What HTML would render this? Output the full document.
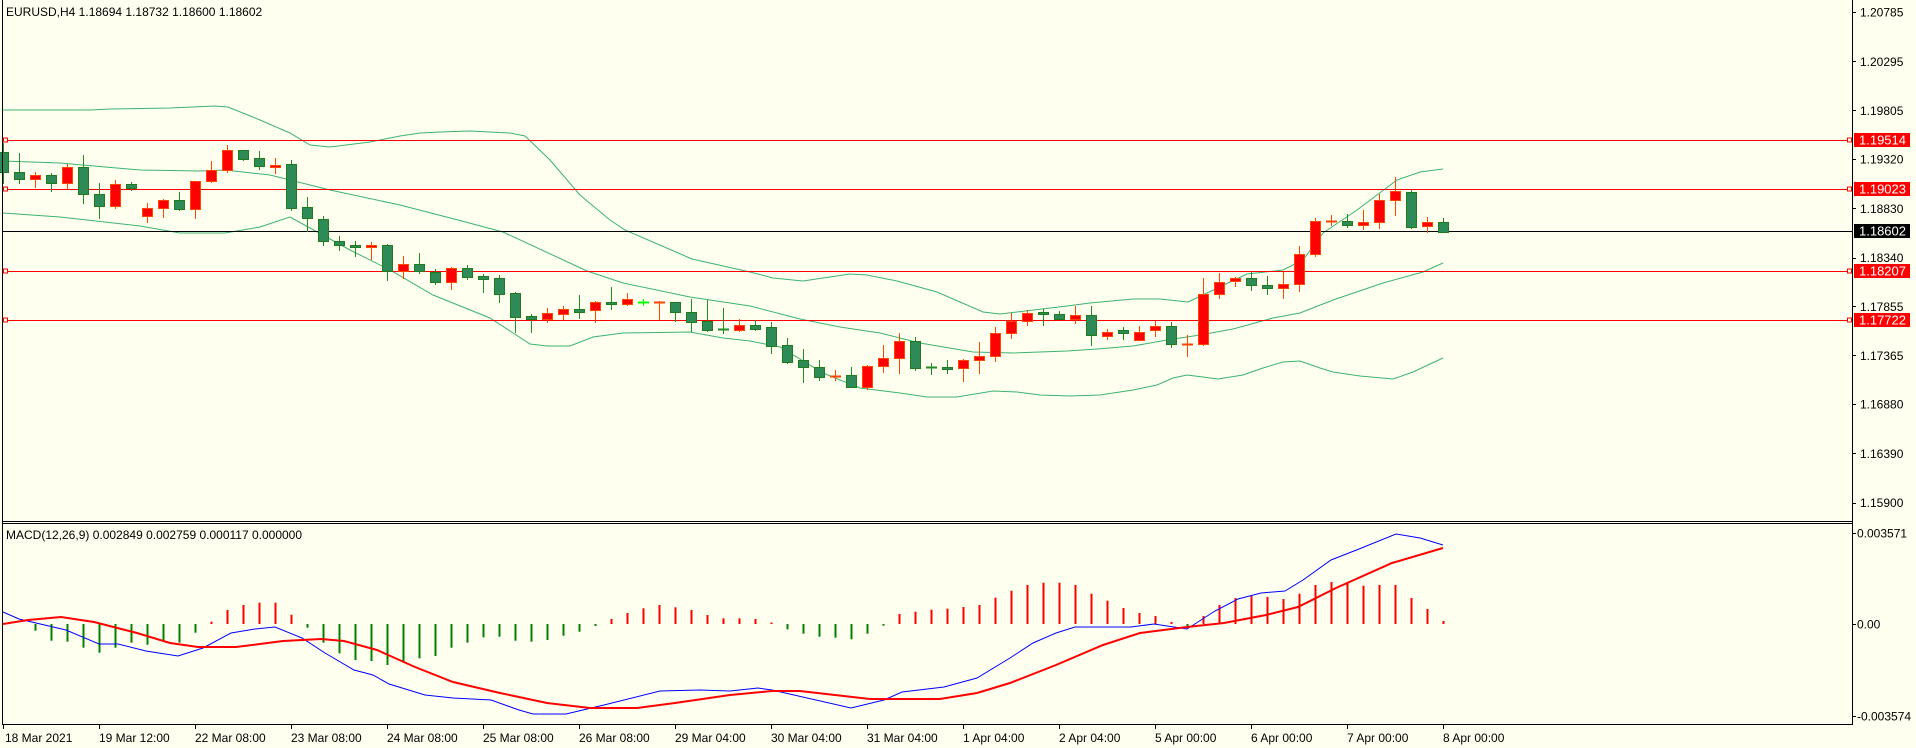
<!DOCTYPE html>
<html><head><meta charset="utf-8"><style>
html,body{margin:0;padding:0;background:#fffff0;}
svg{display:block;font-family:"Liberation Sans",sans-serif;}
</style></head><body>
<svg id="c" width="1916" height="748" xmlns="http://www.w3.org/2000/svg">
<rect x="0" y="0" width="1916" height="748" fill="#fffff0"/>
<g id="bands" fill="none" stroke="#3cb371" stroke-width="1"></g>
<g id="hl"></g>
<g id="candles"></g>
<g id="macd"></g>
<g id="axes" stroke="#000" stroke-width="1" fill="none">
<line x1="2.5" y1="0" x2="2.5" y2="724"/>
<line x1="1852.5" y1="0" x2="1852.5" y2="724"/>
<line x1="2" y1="521.5" x2="1853" y2="521.5"/>
<line x1="2" y1="523.5" x2="1853" y2="523.5"/>
<line x1="2" y1="724.5" x2="1853" y2="724.5"/>
</g>
<g id="txt" font-size="12" fill="#000">
<text x="6" y="16">EURUSD,H4  1.18694 1.18732 1.18600 1.18602</text>
<text x="6" y="539">MACD(12,26,9) 0.002849 0.002759 0.000117 0.000000</text>
</g>
</svg>
<script>
var NS="http://www.w3.org/2000/svg";
function el(p,t,a,txt){var e=document.createElementNS(NS,t);for(var k in a)e.setAttribute(k,a[k]);if(txt!==undefined)e.textContent=txt;document.getElementById(p).appendChild(e);return e;}
function poly(p,pts,st,w){el(p,"polyline",{points:pts.map(function(q){return q.join(",")}).join(" "),fill:"none",stroke:st,"stroke-width":w});}
// bands
poly("bands",[[3,110],[90,110],[110,109],[170,108],[215,106],[228,107],[260,120],[290,133],[310,145],[330,147],[370,142],[400,136],[420,133],[440,132],[470,131],[510,133],[525,136],[550,160],[580,195],[610,220],[625,230],[692,259],[750,272],[773,278],[803,281],[850,274],[867,275],[897,281],[937,292],[983,312],[1000,314],[1067,306],[1090,303],[1133,299],[1160,299],[1188,302],[1203,295],[1230,282],[1247,274],[1283,270],[1303,260],[1323,233],[1357,210],[1397,180],[1420,172],[1443,169]],"#3cb371",1);
poly("bands",[[3,161],[60,163],[140,170],[200,171],[225,170],[270,175],[330,190],[400,205],[458,220],[503,232],[587,271],[623,283],[690,297],[750,306],[800,319],[840,327],[880,333],[920,343],[973,352],[1013,353],[1067,351],[1097,349],[1133,346],[1167,340],[1200,335],[1233,329],[1273,318],[1300,313],[1333,300],[1383,283],[1423,272],[1443,263]],"#3cb371",1);
poly("bands",[[3,213],[60,217],[140,226],[180,233],[225,233],[260,227],[290,217],[310,228],[350,250],[390,270],[433,295],[490,318],[530,344],[547,346],[570,346],[593,337],[623,333],[690,332],[723,338],[750,341],[780,347],[823,373],[860,388],[900,393],[927,397],[957,397],[993,391],[1017,392],[1040,395],[1070,396],[1100,395],[1133,390],[1157,385],[1173,378],[1187,375],[1203,377],[1218,379],[1243,375],[1263,368],[1283,362],[1300,361],[1320,368],[1333,372],[1360,376],[1393,379],[1413,372],[1443,358]],"#3cb371",1);
// horizontal lines
[140,189,271,320].forEach(function(y){
 el("hl","line",{x1:3,y1:y+0.5,x2:1852,y2:y+0.5,stroke:"#ff0000","stroke-width":1});
 el("hl","rect",{x:3.5,y:y-2,width:4,height:4,fill:"#fffff0",stroke:"#ff0000","stroke-width":1});
 el("hl","rect",{x:1847.5,y:y-2,width:4,height:4,fill:"#fffff0",stroke:"#ff0000","stroke-width":1});
});
el("hl","line",{x1:3,y1:231.5,x2:1852,y2:231.5,stroke:"#000","stroke-width":1});
// candles: type, top, bottom, high, low
var C=[["g",152,172,143,183],["g",172,179,153,183],["r",175,179,172,187],["g",175,183,173,191],["r",167,183,164,188],["g",167,194,155,203],["g",194,206,183,218],["r",184,206,180,208],["g",184,188,182,190],["r",208,216,203,222],["r",200,208,199,217],["g",200,209,192,210],["r",181,209,181,218],["r",170,181,161,182],["r",150,170,145,172],["g",150,159,150,160],["g",158,166,151,169],["r",165,166,158,173],["g",164,208,160,210],["g",207,218,197,231],["g",219,241,216,245],["g",241,245,236,250],["g",245,247,241,256],["r",245,247,242,259],["g",245,271,244,280],["r",264,271,256,278],["g",264,271,253,273],["g",272,282,269,284],["r",268,282,267,289],["g",268,277,265,279],["g",276,279,274,292],["g",278,294,275,302],["g",293,317,292,332],["g",316,319,314,332],["r",313,319,308,322],["r",309,314,306,319],["g",309,312,295,318],["r",302,310,301,322],["g",302,304,287,309],["r",299,304,293,305],["l",302,302,299,305],["d",302,302,301,319],["g",302,312,302,321],["g",312,322,299,331],["g",321,330,300,331],["G",329,329,308,333],["r",325,330,319,331],["g",325,329,320,330],["g",327,346,322,353],["g",345,362,338,363],["g",360,367,349,382],["g",367,377,360,380],["d",376,376,370,380],["g",375,387,367,387],["r",366,387,365,389],["r",358,366,345,372],["r",341,358,333,373],["g",341,368,337,370],["G",367,367,363,374],["g",367,368,360,373],["r",360,368,359,381],["r",356,360,342,373],["r",333,356,327,361],["r",321,333,313,338],["r",313,321,310,325],["g",312,314,309,325],["g",314,319,311,319],["r",315,319,306,323],["g",315,335,306,345],["r",332,336,329,339],["g",330,333,327,339],["r",332,340,326,340],["r",326,330,321,336],["g",326,344,322,347],["d",344,344,335,356],["r",294,344,278,345],["r",282,294,273,298],["r",278,281,277,286],["g",278,285,272,290],["g",285,288,276,294],["r",284,288,272,298],["r",254,284,246,291],["r",221,254,218,256],["d",221,221,215,225],["g",221,225,214,227],["r",222,225,210,229],["r",200,222,194,228],["r",191,200,177,215],["g",192,227,190,228],["r",222,226,217,232],["g",222,232,218,232]];
C.forEach(function(c,k){
 var x=Math.round(3.3+16*k), t=c[0];
 var wick=(t=="g"||t=="G")?"#228b22":(t=="l"?"#00ff00":"#ff4500");
 el("candles","line",{x1:x+0.5,y1:c[3],x2:x+0.5,y2:c[4]+1,stroke:wick,"stroke-width":1});
 if(t=="g"||t=="r"){
  var h=Math.max(c[2]-c[1],2);
  el("candles","rect",{x:x-4.5,y:c[1]+0.5,width:10,height:h,fill:t=="g"?"#2e8b57":"#ff0000",stroke:t=="g"?"#1e7b1e":"#ff4500","stroke-width":1});
 } else {
  el("candles","line",{x1:x-5,y1:c[1]+0.5,x2:x+6,y2:c[1]+0.5,stroke:wick,"stroke-width":2});
 }
});
// MACD histogram
var H={2:630.7,3:640.7,4:641.7,5:647.7,6:652.7,7:647.7,8:642.7,9:644.7,10:641.7,11:642.7,12:632.7,13:621.7,14:610,15:605,16:602.7,17:602.7,18:614.7,19:627.7,20:642.7,21:653.3,22:660,23:661,24:665,25:661.7,26:658.3,27:656,28:647.7,29:642.7,30:637.3,31:636.7,32:640.7,33:641.7,34:640,35:635.7,36:631.7,37:626,38:619,39:613,40:608.3,41:605,42:607.3,43:610,44:615,45:618.3,46:618.3,47:619,48:622.5,49:629.3,50:633.7,51:636.7,52:637.7,53:639.3,54:633.7,55:625.7,56:614,57:611.7,58:609.7,59:608.7,60:607,61:605,62:597.7,63:590.7,64:585,65:582.7,66:582.7,67:585,68:593.7,69:600.7,70:608,71:613,72:616,73:622,74:627,75:616,76:605,77:598,78:596,79:597,80:599,81:593.7,82:585,83:582,84:583.3,85:585.7,86:585,87:585,88:598,89:609,90:621};
for(var k in H){var x=Math.round(3.3+16*k),v=H[k];var up=v<624;
 el("macd","rect",{x:x-0.5,y:up?v:624,width:2,height:Math.max(Math.abs(624-v),1.5),fill:up?"#ff0000":"#008000"});}
poly("macd",[[3,612],[19,619],[66,630],[99,644],[118,644],[146,651],[178,656],[203,648],[231,633],[255,629],[275,627],[302,638],[325,653],[354,670],[373,675],[389,684],[425,695],[453,698],[491,700],[519,710],[533,714],[566,714],[604,705],[660,691],[700,690],[730,691],[758,688],[772,690],[851,708],[884,700],[902,692],[944,687],[977,678],[1010,658],[1033,643],[1056,633],[1075,627],[1131,627],[1154,624],[1187,629],[1215,611],[1238,599],[1261,593],[1285,591],[1303,580],[1331,560],[1359,549],[1396,534],[1420,538],[1443,545]],"#0000ff",1);
poly("macd",[[3,624],[28,620],[61,617],[94,622],[137,633],[170,643],[198,647],[236,647],[283,641],[321,639],[344,641],[377,650],[415,667],[453,682],[500,693],[547,703],[590,708],[637,708],[675,703],[730,695],[772,691],[800,691],[870,699],[940,699],[977,693],[1010,683],[1056,665],[1103,645],[1140,633],[1187,627],[1224,623],[1266,615],[1298,607],[1336,588],[1392,563],[1443,548]],"#ff0000",2);
// price axis
var P=["1.20785","1.20295","1.19805","1.19320","1.18830","1.18340","1.17855","1.17365","1.16880","1.16390","1.15900"];
P.forEach(function(p){var y=189+(1.19023-parseFloat(p))*10040;
 el("axes","line",{x1:1852,y1:Math.round(y)+0.5,x2:1856,y2:Math.round(y)+0.5});
 el("txt","text",{x:1860,y:y+4.5},p);});
[["1.19514",140,"#ff0000"],["1.19023",189,"#ff0000"],["1.18207",271,"#ff0000"],["1.17722",320,"#ff0000"],["1.18602",231,"#000000"]].forEach(function(a){
 el("txt","rect",{x:1854,y:a[1]-7,width:56,height:14,fill:a[2]});
 el("txt","text",{x:1859,y:a[1]+4.5,fill:"#fff","font-size":"13"},a[0]);});
[["0.003571",533],["0.00",624],["-0.003574",716]].forEach(function(a){
 el("axes","line",{x1:1852,y1:a[1]+0.5,x2:1856,y2:a[1]+0.5});
 el("txt","text",{x:1857,y:a[1]+4.5},a[0]);});
// time axis
var T=["18 Mar 2021","19 Mar 12:00","22 Mar 08:00","23 Mar 08:00","24 Mar 08:00","25 Mar 08:00","26 Mar 08:00","29 Mar 04:00","30 Mar 04:00","31 Mar 04:00","1 Apr 04:00","2 Apr 04:00","5 Apr 00:00","6 Apr 00:00","7 Apr 00:00","8 Apr 00:00"];
T.forEach(function(t,j){var x=Math.round(3.3+96*j);
 el("axes","line",{x1:x+0.5,y1:724,x2:x+0.5,y2:729});
 el("txt","text",{x:x+(j==0?2:0),y:742},t);});
</script>
</body></html>
